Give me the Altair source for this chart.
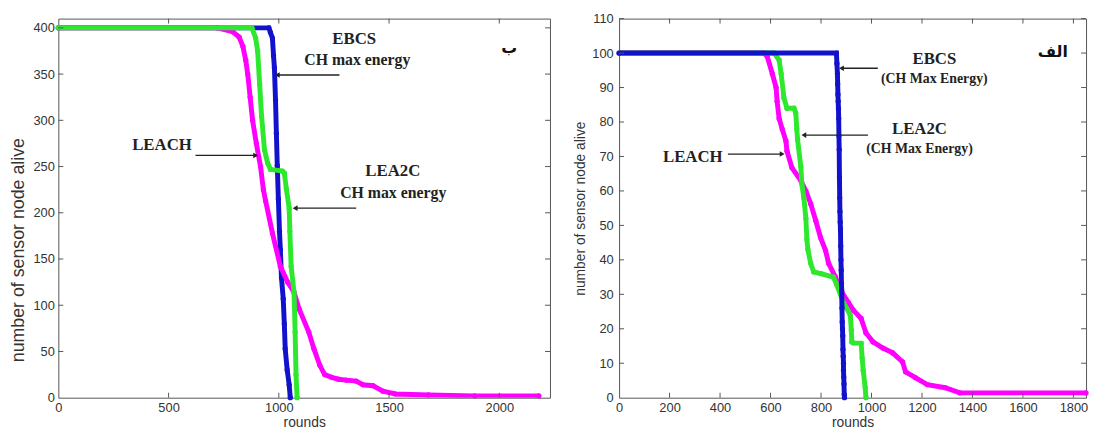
import altair as alt
import pandas as pd

# ---------------- Left panel (ب): 400 nodes ----------------
L_X_TICKS = [0, 500, 1000, 1500, 2000]
L_Y_TICKS = [0, 50, 100, 150, 200, 250, 300, 350, 400]

L_EBCS_R = [0, 955, 962, 971, 976, 980, 985, 989, 993, 998, 1003, 1007, 1012, 1020, 1025, 1029, 1038, 1047, 1052]
L_EBCS_N = [400, 400, 395, 389, 370, 357, 322, 286, 251, 215, 180, 160, 130, 107, 80, 53, 30, 14, 0]

L_LEACH_R = [0, 720, 790, 820, 837, 850, 859, 870, 881, 898, 917, 930, 940, 971, 1007, 1040, 1069, 1092,
             1136, 1159, 1186, 1208, 1240, 1270, 1306, 1351, 1382, 1427, 1472, 1530, 1678, 1888, 2180]
L_LEACH_N = [400, 400, 396, 390, 380, 365, 350, 325, 300, 275, 250, 225, 213, 178, 142, 125, 114, 96,
             71, 53, 35, 25, 22, 20, 19, 18, 14, 13, 7, 4, 3, 2, 2]

L_LEA2C_R = [0, 878, 895, 904, 913, 922, 935, 949, 962, 1016, 1025, 1034, 1047, 1050, 1056, 1069, 1074, 1078, 1083]
L_LEA2C_N = [400, 400, 389, 375, 339, 304, 268, 254, 247, 245, 243, 226, 205, 180, 142, 114, 71, 25, 0]

# ---------------- Right panel (الف): 100 nodes ----------------
R_X_TICKS = [0, 200, 400, 600, 800, 1000, 1200, 1400, 1600, 1800]
R_Y_TICKS = [0, 10, 20, 30, 40, 50, 60, 70, 80, 90, 100, 110]

R_EBCS_R = [0, 861, 863, 865, 866, 867, 868, 869, 870, 871, 872, 873, 874, 875, 876, 877, 878, 879, 880,
            881, 882, 883, 884, 885, 886, 887, 888, 889, 889, 890, 891, 892, 893]
R_EBCS_N = [100, 100, 97, 94, 91, 88, 86, 84, 81, 76, 72, 64, 58, 54, 51, 49, 44, 40, 37,
            33, 31, 26, 22, 20, 18, 14, 12, 10, 8, 6, 4, 1, 0]

R_LEA2C_R = [0, 614, 634, 642, 653, 665, 693, 700, 704, 707, 720, 724, 732, 740, 744, 748, 759, 771, 800,
             849, 861, 888, 916, 920, 922, 928, 959, 963, 967, 975, 978]
R_LEA2C_N = [100, 100, 98, 94, 87, 84, 84, 82.6, 78, 75, 67, 62, 58, 52, 46, 43, 39, 36.5, 36,
             35, 33, 27.7, 24, 19.6, 16.2, 15.9, 15.8, 11.5, 8, 3, 0]

R_LEACH_R = [0, 575, 587, 607, 622, 626, 634, 646, 661, 665, 685, 720, 740, 759, 779, 798, 818, 830, 857,
             877, 908, 928, 959, 978, 1006, 1045, 1084, 1123, 1135, 1174, 1221, 1292, 1350, 1850]
R_LEACH_N = [100, 100, 99, 94, 90, 86, 81, 78, 74.5, 71.6, 66.7, 63, 60, 56.3, 51.4, 46.5, 42.7, 39, 35,
             31.2, 27.7, 25.4, 23, 18.8, 16.2, 14.4, 13, 10.4, 7.5, 5.8, 3.8, 2.9, 1.4, 1.4]

# annotations (in data coordinates)
L_MAIN = [("EBCS", 1342, 388), ("LEACH", 470, 273), ("LEA2C", 1517, 245)]
L_SUB = [("CH max energy", 1356, 365), ("CH max energy", 1519, 221)]
L_ARROWS = [(1275, 993, 349, "triangle-left"), (622, 895, 262, "triangle-right"), (1351, 1074, 205, "triangle-left")]
L_TAG = [("ب", 2045, 378)]

R_MAIN = [("EBCS", 1249, 98.4), ("LEA2C", 1190, 78), ("LEACH", 292, 69.9)]
R_SUB = [("(CH Max Energy)", 1249, 92.5), ("(CH Max Energy)", 1190, 72.2)]
R_ARROWS = [(1025, 881, 95.6, "triangle-left"), (986, 732, 76.2, "triangle-left"), (431, 646, 70.7, "triangle-right")]
R_TAG = [("الف", 1718, 100.2)]

BLUE = "#1212cc"
GREEN = "#2ee82e"
MAGENTA = "#ff00ff"
FRAME = "#555555"
TXT = "#333333"


def panel(series, main, sub, arrows, tag, xdom, ydom, xt, yt, w, h,
          ytitle_size, ytitle_pad, ylab_pad, ytitle_y, main_size, sub_size):
    yaxis = dict(values=yt, title="number of sensor node alive", format="d",
                 titleFontSize=ytitle_size, titlePadding=ytitle_pad,
                 labelPadding=ylab_pad, labelFlush=False)
    if ytitle_y is not None:
        yaxis["titleY"] = ytitle_y
    X = alt.X("r:Q", scale=alt.Scale(domain=xdom, nice=False, zero=False),
              axis=alt.Axis(values=xt, title="rounds", format="d", titleFontSize=14, titlePadding=1,
                            labelPadding=4, labelFlush=False))
    Y = alt.Y("n:Q", scale=alt.Scale(domain=ydom, nice=False, zero=False), axis=alt.Axis(**yaxis))
    layers = []
    for r, n, col in series:
        df = pd.DataFrame({"r": r, "n": n, "i": list(range(len(r)))})
        base = alt.Chart(df).encode(x=X, y=Y, order="i:Q")
        layers.append(base.mark_line(color=col, strokeWidth=5, clip=True))
        layers.append(base.mark_circle(color=col, size=28, opacity=1))

    # inward ticks on all four sides
    xtd = pd.DataFrame({"r": xt[1:]})
    ytd = pd.DataFrame({"n": yt[1:]})
    tk = dict(color=FRAME, strokeWidth=1)
    layers.append(alt.Chart(xtd).mark_rule(**tk).encode(x=X, y=alt.value(h), y2=alt.value(h - 5)))
    layers.append(alt.Chart(xtd).mark_rule(**tk).encode(x=X, y=alt.value(0), y2=alt.value(5)))
    layers.append(alt.Chart(ytd).mark_rule(**tk).encode(y=Y, x=alt.value(0), x2=alt.value(5)))
    layers.append(alt.Chart(ytd).mark_rule(**tk).encode(y=Y, x=alt.value(w), x2=alt.value(w - 5)))

    # arrows
    adf = pd.DataFrame({"r": [a[0] for a in arrows], "r2": [a[1] for a in arrows],
                        "n": [a[2] for a in arrows], "shape": [a[3] for a in arrows]})
    layers.append(alt.Chart(adf).mark_rule(color="#222", strokeWidth=1.3).encode(
        x=X, x2="r2:Q", y=Y))
    layers.append(alt.Chart(adf).mark_point(filled=True, color="#222", size=32, opacity=1).encode(
        x=alt.X("r2:Q", scale=alt.Scale(domain=xdom, nice=False, zero=False)), y=Y,
        shape=alt.Shape("shape:N", scale=None)))

    mdf = pd.DataFrame({"t": [m[0] for m in main], "r": [m[1] for m in main], "n": [m[2] for m in main]})
    sdf = pd.DataFrame({"t": [m[0] for m in sub], "r": [m[1] for m in sub], "n": [m[2] for m in sub]})
    tdf = pd.DataFrame({"t": [m[0] for m in tag], "r": [m[1] for m in tag], "n": [m[2] for m in tag]})
    layers.append(alt.Chart(mdf).mark_text(font="Liberation Serif", fontWeight="bold", fontSize=main_size,
                                           color="#222", baseline="middle", align="center").encode(
        x=X, y=Y, text="t:N"))
    layers.append(alt.Chart(sdf).mark_text(font="Liberation Serif", fontWeight="bold", fontSize=sub_size,
                                           color="#222", baseline="middle", align="center").encode(
        x=X, y=Y, text="t:N"))
    layers.append(alt.Chart(tdf).mark_text(font="DejaVu Sans", fontWeight="bold", fontSize=16,
                                           color="#111", baseline="middle", align="center").encode(
        x=X, y=Y, text="t:N"))
    return alt.layer(*layers).properties(width=w, height=h)


left = panel(
    [(L_EBCS_R, L_EBCS_N, BLUE), (L_LEACH_R, L_LEACH_N, MAGENTA), (L_LEA2C_R, L_LEA2C_N, GREEN)],
    L_MAIN, L_SUB, L_ARROWS, L_TAG, [0, 2230], [0, 410], L_X_TICKS, L_Y_TICKS, 498, 384,
    18, 6, 4, 234, 17, 16)

right = panel(
    [(R_LEACH_R, R_LEACH_N, MAGENTA), (R_LEA2C_R, R_LEA2C_N, GREEN), (R_EBCS_R, R_EBCS_N, BLUE)],
    R_MAIN, R_SUB, R_ARROWS, R_TAG, [0, 1850], [0, 110], R_X_TICKS, R_Y_TICKS, 473, 384,
    14, 4, 6, None, 17, 14)

chart = alt.hconcat(left, right, spacing=22).properties(
    padding={"left": 0, "top": 1, "right": 0, "bottom": 0},
    background="white",
).configure_view(stroke=FRAME, strokeWidth=1).configure_axis(
    grid=False, ticks=False, domain=False,
    labelFont="Liberation Sans", labelFontSize=13, labelColor=TXT,
    titleFont="Liberation Sans", titleFontWeight="normal", titleColor=TXT,
)

chart.save("out.html", embed_options={"renderer": "svg", "actions": False})
